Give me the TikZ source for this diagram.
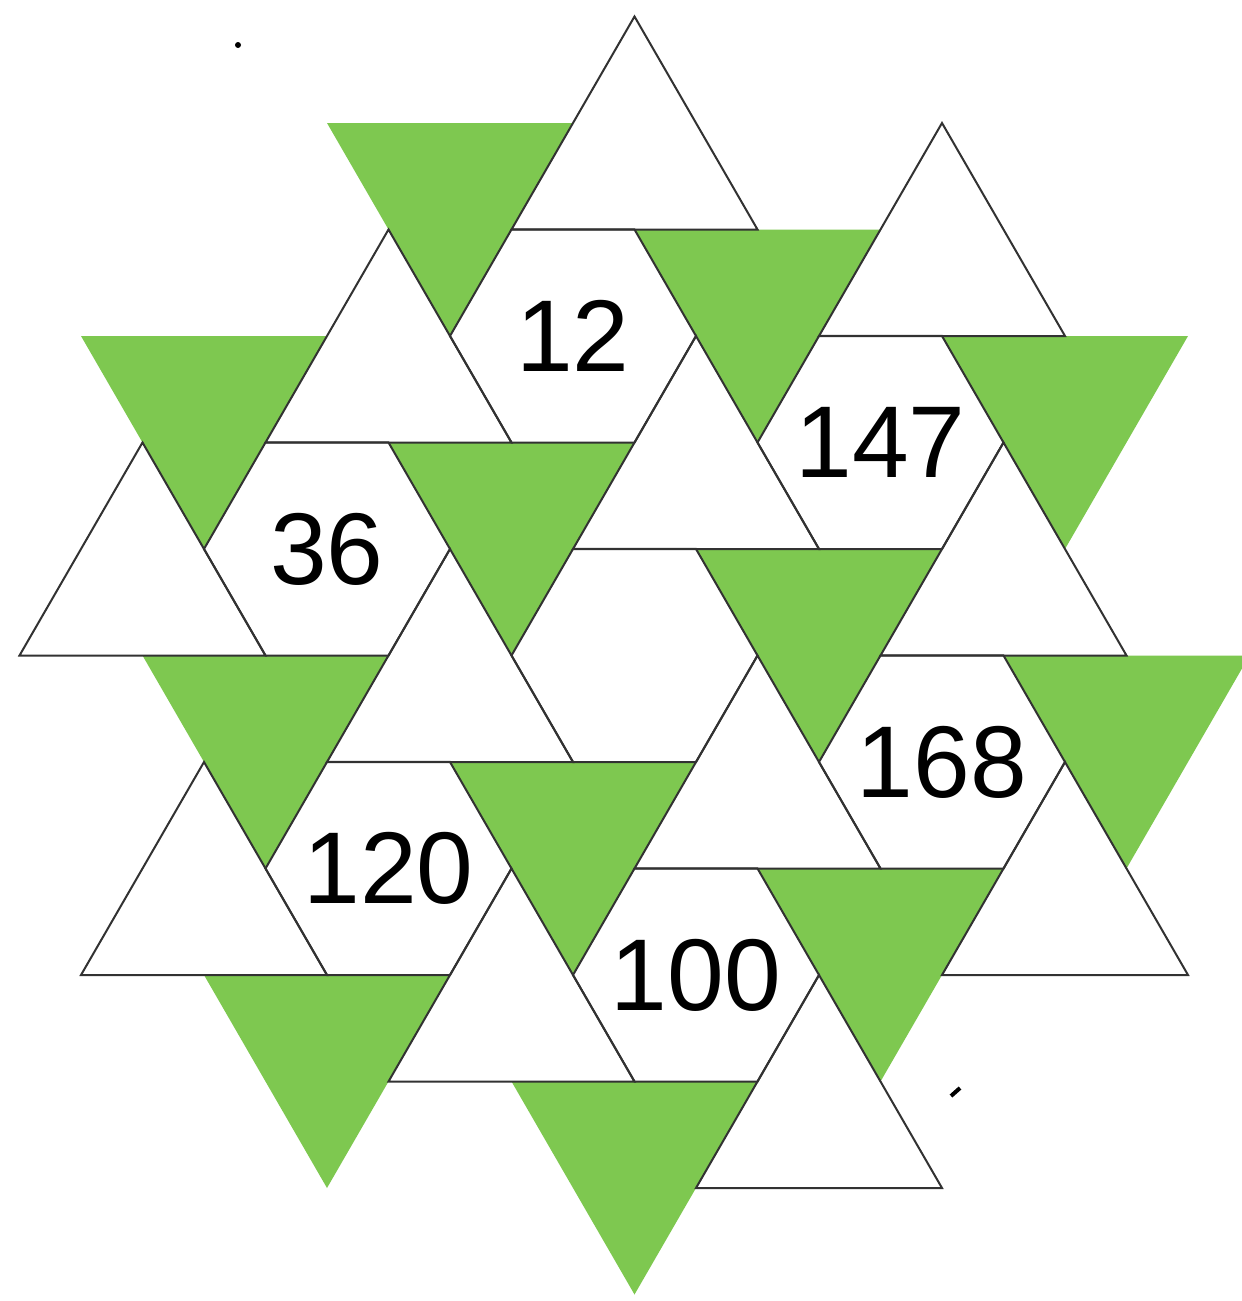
\documentclass[tikz,border=0pt]{standalone}
\usepackage{fontspec}
\setmainfont{Liberation Sans}
\usepackage{tikz}
\usetikzlibrary{shapes.geometric}
\definecolor{leafgreen}{RGB}{126,200,80}
\definecolor{edgegrey}{RGB}{50,50,50}
\tikzset{
  greentri/.style={fill=leafgreen},
  whitetri/.style={draw=edgegrey,line width=1pt,fill=white},
  hexcell/.style={regular polygon,regular polygon sides=6,minimum size=123pt,
    inner sep=0pt,draw=edgegrey,line width=1pt},
  numtext/.style={inner sep=0pt,font=\fontsize{51}{51}\selectfont},
  speck/.style={fill=black}
}

\begin{document}
\begin{tikzpicture}[x=0.5pt,y=-0.5pt]
  \useasboundingbox (0,0) rectangle (1242,1301);
  \fill[white] (0,0) rectangle (1242,1301);
  \fill[greentri] (327,123) -- ++(246,0) -- ++(-123,213) -- cycle;
  \fill[greentri] (634.5,229.5) -- ++(246,0) -- ++(-123,213) -- cycle;
  \fill[greentri] (942,336) -- ++(246,0) -- ++(-123,213) -- cycle;
  \fill[greentri] (81,336) -- ++(246,0) -- ++(-123,213) -- cycle;
  \fill[greentri] (388.5,442.5) -- ++(246,0) -- ++(-123,213) -- cycle;
  \fill[greentri] (696,549) -- ++(246,0) -- ++(-123,213) -- cycle;
  \fill[greentri] (1003.5,655.5) -- ++(246,0) -- ++(-123,213) -- cycle;
  \fill[greentri] (142.5,655.5) -- ++(246,0) -- ++(-123,213) -- cycle;
  \fill[greentri] (450,762) -- ++(246,0) -- ++(-123,213) -- cycle;
  \fill[greentri] (757.5,868.5) -- ++(246,0) -- ++(-123,213) -- cycle;
  \fill[greentri] (204,975) -- ++(246,0) -- ++(-123,213) -- cycle;
  \fill[greentri] (511.5,1081.5) -- ++(246,0) -- ++(-123,213) -- cycle;
  \draw[whitetri] (511.5,229.5) -- ++(246,0) -- ++(-123,-213) -- cycle;
  \draw[whitetri] (819,336) -- ++(246,0) -- ++(-123,-213) -- cycle;
  \draw[whitetri] (265.5,442.5) -- ++(246,0) -- ++(-123,-213) -- cycle;
  \draw[whitetri] (573,549) -- ++(246,0) -- ++(-123,-213) -- cycle;
  \draw[whitetri] (880.5,655.5) -- ++(246,0) -- ++(-123,-213) -- cycle;
  \draw[whitetri] (19.5,655.5) -- ++(246,0) -- ++(-123,-213) -- cycle;
  \draw[whitetri] (327,762) -- ++(246,0) -- ++(-123,-213) -- cycle;
  \draw[whitetri] (634.5,868.5) -- ++(246,0) -- ++(-123,-213) -- cycle;
  \draw[whitetri] (942,975) -- ++(246,0) -- ++(-123,-213) -- cycle;
  \draw[whitetri] (81,975) -- ++(246,0) -- ++(-123,-213) -- cycle;
  \draw[whitetri] (388.5,1081.5) -- ++(246,0) -- ++(-123,-213) -- cycle;
  \draw[whitetri] (696,1188) -- ++(246,0) -- ++(-123,-213) -- cycle;
  \node[hexcell] (h12) at (573,336) {};
  \node[hexcell] (h147) at (880.5,442.5) {};
  \node[hexcell] (h36) at (327,549) {};
  \node[hexcell] (hmid) at (634.5,655.5) {};
  \node[hexcell] (h168) at (942,762) {};
  \node[hexcell] (h120) at (388.5,868.5) {};
  \node[hexcell] (h100) at (696,975) {};
  \node[numtext] (n12) at (h12) {12};
  \node[numtext] (n147) at (h147) {147};
  \node[numtext] (n36) at (h36) {36};
  \node[numtext] (n168) at (h168) {168};
  \node[numtext] (n120) at (h120) {120};
  \node[numtext] (n100) at (h100) {100};
  \fill[speck] (238,45) circle (3);
  \draw[speck,line width=2pt] (951,1096) -- (960,1088);
\end{tikzpicture}
\end{document}
